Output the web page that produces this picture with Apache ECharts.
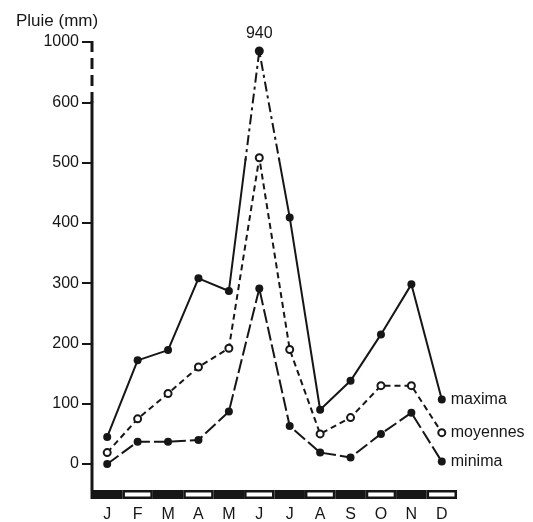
<!DOCTYPE html>
<html>
<head>
<meta charset="utf-8">
<script src="https://cdn.jsdelivr.net/npm/echarts@6/dist/echarts.min.js"></script>
<style>
html, body { margin: 0; padding: 0; background: #fff; }
#main { width: 533px; height: 522px; }
</style>
</head>
<body>
<div id="main"></div>
<script>
var months = ['J', 'F', 'M', 'A', 'M', 'J', 'J', 'A', 'S', 'O', 'N', 'D'];
var maxima = [45, 172, 189, 308, 287, 940, 409, 90, 138, 215, 298, 107];
var moyennes = [19, 75, 117, 161, 192, 508, 190, 50, 77, 130, 130, 52];
var minima = [0, 37, 37, 40, 87, 291, 63, 19, 11, 50, 85, 4];
var yTicks = [0, 100, 200, 300, 400, 500, 600, 1000];
var seriesNames = ['maxima', 'moyennes', 'minima'];

// axis is broken above 600 mm: that part is squeezed
var BREAK = 600, SQUEEZE = 0.25;
function toAxis(v) { return v <= BREAK ? v : BREAK + (v - BREAK) * SQUEEZE; }
function fromAxis(v) { return v <= BREAK ? v : Math.round(BREAK + (v - BREAK) / SQUEEZE); }

var GRID_LEFT = 92, GRID_RIGHT = 76, GRID_TOP = 42, GRID_BOTTOM = 23;
var Y_MIN = -58, Y_MAX = toAxis(1000), CUT = 505;
var px = (522 - GRID_TOP - GRID_BOTTOM) / (Y_MAX - Y_MIN);
var INK = '#161616';
var FONT = 'Liberation Sans';

var peak = maxima.indexOf(Math.max.apply(null, maxima));
function around(i) { return i >= peak - 1 && i <= peak + 1; }

var chart = echarts.init(document.getElementById('main'));

function hiddenX(g) {
    return { type: 'category', gridIndex: g, data: months, show: false, boundaryGap: true };
}
function hiddenY(g, min, max) {
    return { type: 'value', gridIndex: g, min: min, max: max, show: false, splitLine: { show: false } };
}
function grid(extra) {
    var g = { left: GRID_LEFT, right: GRID_RIGHT, outerBoundsMode: 'none', containLabel: false };
    for (var k in extra) g[k] = extra[k];
    return g;
}

var option = {
    animation: false,
    backgroundColor: '#fff',
    textStyle: { fontFamily: FONT, color: INK },
    title: {
        text: 'Pluie (mm)',
        left: 11,
        top: 8,
        textStyle: { fontSize: 17, fontWeight: 'normal', color: INK, fontFamily: FONT }
    },
    grid: [
        grid({ top: GRID_TOP, bottom: GRID_BOTTOM }),
        grid({ top: GRID_TOP + (Y_MAX - CUT) * px, bottom: GRID_BOTTOM }),
        grid({ top: GRID_TOP, height: (Y_MAX - CUT) * px }),
        grid({ top: 490, height: 9 })
    ],
    xAxis: [
        hiddenX(0),
        hiddenX(1),
        hiddenX(2),
        {
            type: 'category',
            gridIndex: 3,
            data: months,
            boundaryGap: true,
            axisLine: { show: false },
            axisTick: { show: false },
            axisLabel: { fontSize: 16, color: INK, margin: 8, fontFamily: FONT, interval: 0 }
        }
    ],
    yAxis: [
        {
            type: 'value',
            gridIndex: 0,
            min: Y_MIN,
            max: Y_MAX,
            splitLine: { show: false },
            axisLine: { show: false },
            axisTick: {
                show: true,
                length: 10,
                customValues: yTicks.map(toAxis),
                lineStyle: { color: INK, width: 2 }
            },
            axisLabel: {
                customValues: yTicks.map(toAxis),
                fontSize: 16,
                color: INK,
                margin: 13,
                fontFamily: FONT,
                formatter: function (v) { return fromAxis(v); }
            }
        },
        hiddenY(1, Y_MIN, CUT),
        hiddenY(2, CUT, Y_MAX),
        hiddenY(3, 0, 1)
    ],
    series: [
        {
            name: seriesNames[0],
            type: 'line',
            data: maxima.map(function (v, i) { return i === peak ? '-' : toAxis(v); }),
            symbol: 'circle',
            symbolSize: 8,
            itemStyle: { color: INK },
            lineStyle: { color: INK, width: 2 },
            endLabel: { show: true, formatter: '{a}', fontSize: 16, color: INK, distance: 9, fontFamily: FONT },
            z: 3
        },
        {
            // peak, lower part: solid
            type: 'line',
            xAxisIndex: 1,
            yAxisIndex: 1,
            data: maxima.map(function (v, i) { return around(i) ? toAxis(v) : '-'; }),
            showSymbol: false,
            lineStyle: { color: INK, width: 2 },
            silent: true,
            z: 2
        },
        {
            // peak, upper part: dash-dot over the broken axis
            type: 'line',
            xAxisIndex: 2,
            yAxisIndex: 2,
            data: maxima.map(function (v, i) { return around(i) ? toAxis(v) : '-'; }),
            symbol: 'circle',
            symbolSize: function (v, p) { return p.dataIndex === peak ? 9 : 0; },
            itemStyle: { color: INK },
            lineStyle: { color: INK, width: 2, type: [10, 4, 3, 4] },
            label: {
                show: true,
                position: 'top',
                distance: 5,
                fontSize: 16,
                color: INK,
                fontFamily: FONT,
                formatter: function (p) { return p.dataIndex === peak ? String(maxima[peak]) : ''; }
            },
            silent: true,
            z: 2
        },
        {
            name: seriesNames[1],
            type: 'line',
            data: moyennes.map(toAxis),
            symbol: 'emptyCircle',
            symbolSize: 7,
            itemStyle: { color: INK, borderWidth: 1.8 },
            lineStyle: { color: INK, width: 2, type: [6, 4] },
            endLabel: { show: true, formatter: '{a}', fontSize: 16, color: INK, distance: 9, fontFamily: FONT },
            z: 3
        },
        {
            name: seriesNames[2],
            type: 'line',
            data: minima.map(toAxis),
            symbol: 'circle',
            symbolSize: 8,
            itemStyle: { color: INK },
            lineStyle: { color: INK, width: 2, type: [14, 4] },
            endLabel: { show: true, formatter: '{a}', fontSize: 16, color: INK, distance: 9, fontFamily: FONT },
            z: 3
        },
        {
            // month strip along the time axis
            type: 'bar',
            xAxisIndex: 3,
            yAxisIndex: 3,
            barWidth: '100%',
            silent: true,
            data: months.map(function (m, i) {
                return {
                    value: 1,
                    itemStyle: i % 2
                        ? { color: '#fff', borderColor: INK, borderWidth: 2.5 }
                        : { color: INK }
                };
            })
        }
    ]
};
chart.setOption(option);

// y axis line: solid up to 600, dashed over the break
var yTop = chart.convertToPixel({ yAxisIndex: 0 }, Y_MAX);
var yBreak = chart.convertToPixel({ yAxisIndex: 0 }, BREAK);
var yBottom = chart.convertToPixel({ yAxisIndex: 0 }, Y_MIN);
chart.setOption({
    graphic: [
        {
            type: 'line',
            shape: { x1: GRID_LEFT, y1: yBreak - 1, x2: GRID_LEFT, y2: yBottom },
            style: { stroke: INK, lineWidth: 3 }
        },
        {
            type: 'line',
            shape: { x1: GRID_LEFT, y1: yTop - 1, x2: GRID_LEFT, y2: yBreak },
            style: { stroke: INK, lineWidth: 3, lineDash: [11, 6] }
        }
    ]
});
</script>
</body>
</html>
